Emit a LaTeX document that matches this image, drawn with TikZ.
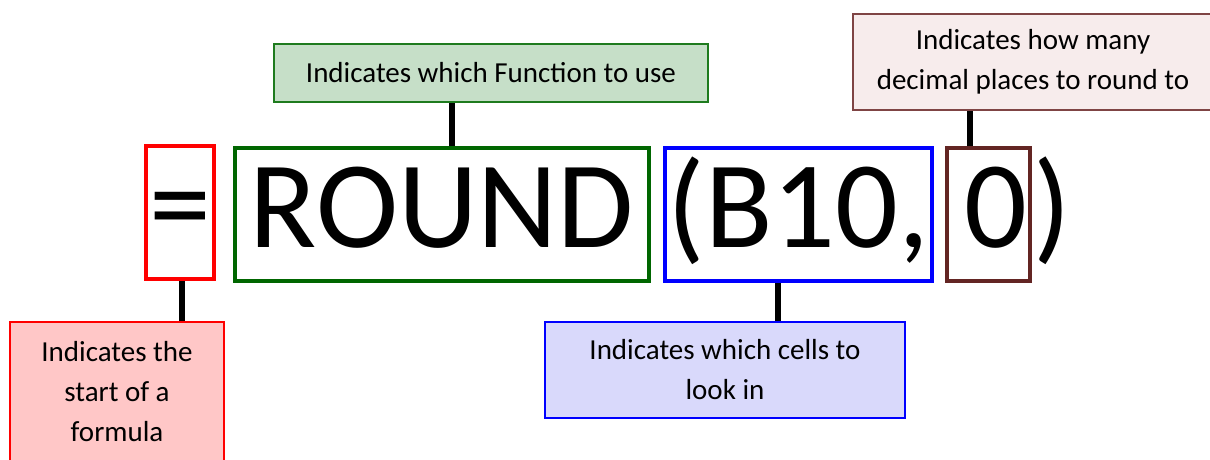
\documentclass[tikz,border=0pt]{standalone}
\usepackage{fontspec}
\setmainfont{Carlito}
\usepackage{tikz}
\usetikzlibrary{positioning, calc}
\definecolor{eqRed}{HTML}{FF0000}
\definecolor{eqFill}{HTML}{FFC7C7}
\definecolor{fnGreen}{HTML}{006600}
\definecolor{fnLine}{HTML}{1E7B1E}
\definecolor{fnFill}{HTML}{C6DFC8}
\definecolor{cellBlue}{HTML}{0000FF}
\definecolor{cellFill}{HTML}{D9D9FB}
\definecolor{digBrown}{HTML}{632523}
\definecolor{digLine}{HTML}{7F4444}
\definecolor{digFill}{HTML}{F7ECEC}
\tikzset{
  bigtxt/.style = {inner sep=0pt, text height=99pt, text depth=34pt,
                   font=\fontsize{124}{130}\selectfont},
  part/.style   = {bigtxt, draw, line width=4pt},
  tag/.style    = {draw, line width=1.5pt, inner sep=0pt, align=center,
                   font=\fontsize{29}{40}\selectfont},
  lnk/.style    = {line width=6pt},
}
\begin{document}
\begin{tikzpicture}[x=1pt, y=-1pt]
  \useasboundingbox (0,0) rectangle (1210,459);
  \clip (0,0) rectangle (1210,459);
  \node[part, draw=eqRed, minimum width=68pt]     (eq)   at (180,212.5) {=};
  \node[part, draw=fnGreen, minimum width=414pt]  (fn)   at (442,214.5) {ROUND};
  \node[part, draw=cellBlue, minimum width=267pt] (cell) at (798.5,214.5) {(B10,};
  \node[part, draw=digBrown, minimum width=83pt]  (dig)  at (988.5,214.5) {\hspace*{15pt}0};
  \node[bigtxt, anchor=west] (close) at ([xshift=1pt]dig.east) {)};
  \node[tag, draw=eqRed, fill=eqFill, minimum width=214pt, minimum height=140pt]
       (eqtag) at (117,392) {Indicates the\\start of a\\formula};
  \node[tag, draw=fnLine, fill=fnFill, minimum width=434pt, minimum height=58pt]
       (fntag) at (491,73) {Indicates which Function to use};
  \node[tag, draw=cellBlue, fill=cellFill, minimum width=360pt, minimum height=96pt]
       (celltag) at (725,370) {Indicates which cells to\\look in};
  \node[tag, draw=digLine, fill=digFill, minimum width=360pt, minimum height=96pt]
       (digtag) at (1033,62) {Indicates how many\\decimal places to round to};
  \draw[lnk] ([xshift=2pt]eq.south) -- ([xshift=2pt]eq.south |- eqtag.north);
  \draw[lnk] ([xshift=10pt]fn.north) -- ([xshift=10pt]fn.north |- fntag.south);
  \draw[lnk] ([xshift=-21pt]cell.south) -- ([xshift=-21pt]cell.south |- celltag.north);
  \draw[lnk] ([xshift=-19pt]dig.north) -- ([xshift=-19pt]dig.north |- digtag.south);
\end{tikzpicture}
\end{document}
